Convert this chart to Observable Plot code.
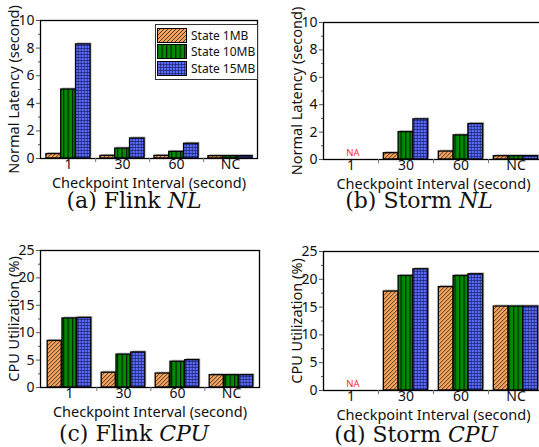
<!DOCTYPE html>
<html><head><meta charset="utf-8">
<script src="https://cdn.jsdelivr.net/npm/d3@7"></script>
<script src="https://cdn.jsdelivr.net/npm/@observablehq/plot@0.6"></script>
<style>
html,body{margin:0;padding:0;background:#fff;}
#root{position:relative;width:539px;height:447px;overflow:hidden;font-family:"Noto Sans",sans-serif;}
.panel{position:absolute;}
.panel svg{overflow:visible;max-width:none !important;}
.caption{position:absolute;font-family:"DejaVu Serif",serif;font-size:22px;white-space:nowrap;transform:translate(-50%,-50%);color:#111;}
.legend{position:absolute;border:1px solid #333;background:#fff;font-size:12px;color:#111;}
.legend .row{display:flex;align-items:center;height:16.5px;}
.legend svg{display:block;margin:0 4px 0 1px;}
</style></head><body>
<svg width="0" height="0" style="position:absolute">
  <defs>
    <pattern id="pHatch" patternUnits="userSpaceOnUse" width="4" height="4">
      <rect width="4" height="4" fill="#f5a35e"/>
      <path d="M-1,1 l2,-2 M0,4 l4,-4 M3,5 l2,-2" stroke="#3a2a1a" stroke-width="0.9"/>
    </pattern>
    <pattern id="pVert" patternUnits="userSpaceOnUse" width="4.5" height="4">
      <rect width="4.5" height="4" fill="#008c00"/>
      <rect x="0" y="0" width="1.2" height="4" fill="#0a1a0a"/>
    </pattern>
    <pattern id="pGrid" patternUnits="userSpaceOnUse" width="3" height="3">
      <rect width="3" height="3" fill="#5b6dff"/>
      <path d="M0,0.4 H3 M0.4,0 V3" stroke="#1c1f66" stroke-width="0.8"/>
    </pattern>
  </defs>
</svg>
<div id="root"></div>
<script>
const intervals = ["1", "30", "60", "NC"];
const states = ["State 1MB", "State 10MB", "State 15MB"];
const patterns = ["url(#pHatch)", "url(#pVert)", "url(#pGrid)"];

const flinkNL_1MB  = [0.32, 0.19, 0.19, 0.17];
const flinkNL_10MB = [5.0, 0.72, 0.48, 0.17];
const flinkNL_15MB = [8.27, 1.45, 1.07, 0.17];

const stormNL_1MB  = [null, 0.46, 0.58, 0.24];
const stormNL_10MB = [null, 2.0, 1.76, 0.24];
const stormNL_15MB = [null, 2.93, 2.59, 0.24];

const flinkCPU_1MB  = [8.5, 2.7, 2.55, 2.25];
const flinkCPU_10MB = [12.6, 6.0, 4.7, 2.25];
const flinkCPU_15MB = [12.7, 6.4, 5.0, 2.25];

const stormCPU_1MB  = [null, 17.8, 18.6, 15.1];
const stormCPU_10MB = [null, 20.6, 20.6, 15.1];
const stormCPU_15MB = [null, 21.8, 20.9, 15.1];

const nlTicks = [0, 2, 4, 6, 8, 10];
const nlMinor = [1, 3, 5, 7, 9];
const cpuTicks = [0, 5, 10, 15, 20, 25];
const cpuMinor = [2.5, 7.5, 12.5, 17.5, 22.5];

const xTitle = "Checkpoint Interval (second)";
const nlTitle = "Normal Latency (second)";
const cpuTitle = "CPU Utilization (%)";
const naLabel = "NA";

const root = document.getElementById("root");

function makePanel(cfg) {
  const {left, top, width, height, plotLeft, plotTop, plotRight, plotBottom,
         ticks, minor, yLabel, values, na, caption, capX, capY} = cfg;
  const yMax = ticks[ticks.length - 1];
  const mL = plotLeft - left, mT = plotTop - top;
  const mR = left + width - plotRight, mB = top + height - plotBottom;
  const bw = (plotRight - plotLeft) / intervals.length;
  const barW = 14.8;
  const inset = (bw - barW) / 2;
  const series = states.map((s, k) =>
    intervals.map((c, i) => ({c, v: values[k][i]})).filter(d => d.v != null));
  const marks = [];
  series.forEach((data, k) => {
    marks.push(Plot.barY(data, {x: "c", y: "v", dx: (k - 1) * barW + 1.5, dy: -1.5,
      insetLeft: inset, insetRight: inset, fill: "#b8b8b8"}));
  });
  series.forEach((data, k) => {
    marks.push(Plot.barY(data, {x: "c", y: "v", dx: (k - 1) * barW,
      insetLeft: inset, insetRight: inset, fill: patterns[k], stroke: "#000", strokeWidth: 1.3}));
  });
  marks.push(Plot.frame({stroke: "#000", strokeWidth: 1.3}));
  marks.push(Plot.ruleX(intervals.slice(0, 3), {x: d => d, y1: 0, y2: -yMax * 0.03, dx: bw / 2, stroke: "#777", strokeWidth: 1}));
  marks.push(Plot.axisY(ticks, {tickSize: 4, tickPadding: 2, fontSize: 14, stroke: "#555", fill: "#111", label: null}));
  marks.push(Plot.axisY(minor, {tickSize: 2, tickFormat: () => "", stroke: "#555", label: null}));
  marks.push(Plot.axisX(intervals, {tickSize: 0, tickPadding: 1, fontSize: 14, fill: "#111", label: null}));
  marks.push(Plot.text([yLabel], {frameAnchor: "left", rotate: -90, dx: -26, textAnchor: "middle", lineAnchor: "middle", fontSize: 14.5, fill: "#111"}));
  marks.push(Plot.text([xTitle], {frameAnchor: "bottom", dy: 25, textAnchor: "middle", lineAnchor: "middle", fontSize: 14.5, fill: "#111"}));
  if (na) marks.push(Plot.text([{c: "1", v: 0}], {x: "c", y: "v", dy: -7, dx: 2, text: () => naLabel, fontSize: 9.5, fill: "#ff2a2a"}));
  const svg = Plot.plot({
    width, height, marginLeft: mL, marginTop: mT, marginRight: mR, marginBottom: mB,
    style: {fontFamily: '"Noto Sans", sans-serif', fontSize: "14px", background: "transparent", overflow: "visible", maxWidth: "none"},
    x: {domain: intervals, padding: 0},
    y: {domain: [0, yMax]},
    marks
  });
  const div = document.createElement("div");
  div.className = "panel";
  div.style.left = left + "px";
  div.style.top = top + "px";
  div.style.width = width + "px";
  div.style.height = height + "px";
  div.appendChild(svg);
  root.appendChild(div);
  const cap = document.createElement("div");
  cap.className = "caption";
  cap.style.left = capX + "px";
  cap.style.top = capY + "px";
  cap.innerHTML = caption;
  root.appendChild(cap);
}

makePanel({left: 0, top: 0, width: 270, height: 200, plotLeft: 40, plotTop: 20, plotRight: 257, plotBottom: 158,
  ticks: nlTicks, minor: nlMinor, yLabel: nlTitle, values: [flinkNL_1MB, flinkNL_10MB, flinkNL_15MB],
  caption: "(a) Flink <i>NL</i>", capX: 134, capY: 200});
makePanel({left: 270, top: 0, width: 280, height: 200, plotLeft: 323, plotTop: 22, plotRight: 543, plotBottom: 159,
  ticks: nlTicks, minor: nlMinor, yLabel: nlTitle, values: [stormNL_1MB, stormNL_10MB, stormNL_15MB], na: true,
  caption: "(b) Storm <i>NL</i>", capX: 419, capY: 200});
makePanel({left: 0, top: 220, width: 270, height: 200, plotLeft: 40, plotTop: 250, plotRight: 259, plotBottom: 387,
  ticks: cpuTicks, minor: cpuMinor, yLabel: cpuTitle, values: [flinkCPU_1MB, flinkCPU_10MB, flinkCPU_15MB],
  caption: "(c) Flink <i>CPU</i>", capX: 134, capY: 433});
makePanel({left: 270, top: 220, width: 280, height: 200, plotLeft: 323, plotTop: 251, plotRight: 543, plotBottom: 390,
  ticks: cpuTicks, minor: cpuMinor, yLabel: cpuTitle, values: [stormCPU_1MB, stormCPU_10MB, stormCPU_15MB], na: true,
  caption: "(d) Storm <i>CPU</i>", capX: 416, capY: 434});

// legend in panel (a)
const legend = document.createElement("div");
legend.className = "legend";
legend.style.left = "155px";
legend.style.top = "24px";
legend.style.width = "101px";
legend.style.padding = "2px 0";
states.forEach((s, k) => {
  const row = document.createElement("div");
  row.className = "row";
  row.innerHTML = `<svg width="30" height="15"><rect x="0.5" y="0.5" width="29" height="14" fill="${patterns[k]}" stroke="#000" stroke-width="1"/></svg><span>${s}</span>`;
  legend.appendChild(row);
});
root.appendChild(legend);
</script>
</body></html>
